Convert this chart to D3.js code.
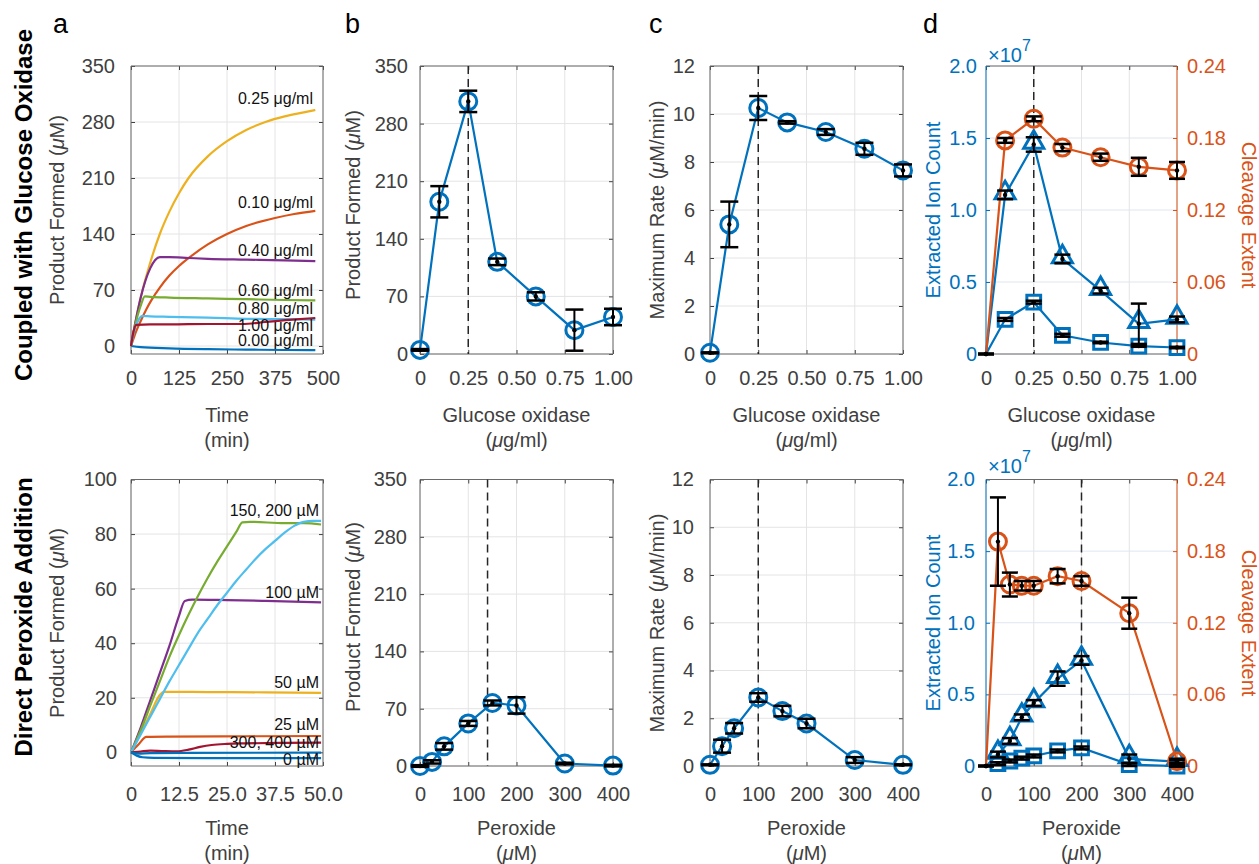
<!DOCTYPE html>
<html>
<head>
<meta charset="utf-8">
<script src="https://cdn.jsdelivr.net/npm/d3@7"></script>
<style>
  body { margin: 0; background: #fff; }
  svg { font-family: 'Liberation Sans', Arial, Helvetica, sans-serif; }
</style>
</head>
<body>
<div id="fig"></div>
<script>
'use strict';

// ---------------- data ----------------

// a (top): product formed (uM) vs time (min), one curve per glucose oxidase level
var goxNames = ['0.00 μg/ml', '0.10 μg/ml', '0.25 μg/ml', '0.40 μg/ml', '0.60 μg/ml', '0.80 μg/ml', '1.00 μg/ml'];
var gox000 = [[0,0],[25,-1.5],[100,-3],[200,-4],[300,-4.5],[400,-5],[480,-5.2]];
var gox010 = [[0,0],[10,14],[25,31],[40,46],[54,58],[75,73],[100,88],[125,100],[153,111],[200,127],[250,140],[300,150],[375,160],[425,165],[480,169]];
var gox025 = [[0,0],[10,26],[25,60],[50,104],[75,140],[100,168],[125,191],[150,210],[200,237],[250,256],[300,270],[350,280],[400,287],[450,292],[480,295]];
var gox040 = [[0,0],[10,26],[25,60],[50,97],[75,111],[100,111],[150,110],[200,109],[300,108],[400,107],[480,106]];
var gox060 = [[0,0],[10,24],[25,50],[36,62],[50,61.5],[100,60.5],[200,59.5],[300,58.5],[400,57.5],[480,57]];
var gox080 = [[0,0],[10,22],[20,33],[28,37.5],[50,37],[100,36.5],[200,35.5],[300,34],[400,33.5],[480,33]];
var gox100 = [[0,0],[6,17],[14,26.5],[50,27],[100,27],[200,27.5],[290,27.5],[350,30],[420,33],[480,35]];
var goxLabelAt = [7.5, 180, 309, 119, 69, 47.5, 26];

// a (bottom): product formed (uM) vs time (min), direct peroxide addition
var perNames = ['0 µM', '25 µM', '50 µM', '100 µM', '150, 200 µM', '', '300, 400 µM'];
var per0 = [[0,0],[1.5,-1.2],[3,-1.8],[6,-2],[20,-2.1],[49.5,-2.1]];
var per25 = [[0,0],[2,3],[4,5.7],[10,5.8],[30,5.9],[49.5,6]];
var per50 = [[0,0],[2.5,7],[5,14],[7.5,21],[8.5,22.2],[20,22.1],[35,22],[49.5,21.8]];
var per100 = [[0,0],[2.5,9],[5,19],[7.5,29],[10,39],[12.5,50],[14,55.5],[16,56],[25,55.8],[35,55.5],[49.5,55]];
var per150 = [[0,0],[2.5,8],[5,17],[7.5,26],[10,35],[12.5,43],[15,50.5],[17.5,57.5],[20,64],[22.5,70],[25,75.5],[27.5,81],[29,84.3],[31,84.5],[40,84],[45,84],[49.5,83.5]];
var per200 = [[0,0],[2.5,6.5],[5,13],[7.5,19.5],[10,26],[12.5,32],[15,38],[17.5,44],[20,49],[22.5,54],[25,58.5],[27.5,63],[30,67],[32.5,71],[35,74.5],[37.5,77.5],[40,80.5],[42.5,83],[45,84.5],[47.5,84.8],[49.5,84.8]];
var per300 = [[0,0],[2.5,0.3],[5,0.6],[8,0.5],[12,0.4],[15,1],[18,2],[21,2.7],[25,3.1],[30,3.3],[40,3.5],[49.5,3.6]];
var per400 = [[0,0],[2,-0.5],[5,-0.3],[15,-0.2],[49.5,-0.1]];
var perLabelAt = [-2.7, 10.1, 25.8, 58.8, 88.8, null, 3.5];

// b, c, d (top): glucose oxidase (ug/ml)
var goxConc = [0, 0.1, 0.25, 0.4, 0.6, 0.8, 1.0];
var goxProduct = [5, 185, 307, 112, 70, 29, 45];
var goxProductErr = [1, 19, 13, 4, 5, 25, 10];
var goxRate = [0.05, 5.4, 10.25, 9.65, 9.25, 8.55, 7.65];
var goxRateErr = [0.02, 0.95, 0.5, 0.05, 0.12, 0.25, 0.25];
var goxIonTri = [0, 1.105e7, 1.455e7, 0.66e7, 0.44e7, 0.21e7, 0.24e7];
var goxIonTriErr = [0, 0.03e7, 0.05e7, 0.03e7, 0.02e7, 0.14e7, 0.02e7];
var goxIonSq = [0, 0.24e7, 0.36e7, 0.13e7, 0.08e7, 0.055e7, 0.045e7];
var goxIonSqErr = [0, 0.01e7, 0.01e7, 0.01e7, 0.005e7, 0.005e7, 0.005e7];
var goxCleave = [0, 0.178, 0.196, 0.172, 0.164, 0.156, 0.153];
var goxCleaveErr = [0, 0.002, 0.002, 0.003, 0.003, 0.0075, 0.007];

// b, c (bottom): peroxide (uM)
var perConc = [0, 25, 50, 100, 150, 200, 300, 400];
var perProduct = [0, 5, 24, 52, 77, 74, 3, 0.5];
var perProductErr = [1, 2, 4, 3, 3, 10, 1, 1];
var perRate = [0.05, 0.83, 1.58, 2.87, 2.3, 1.78, 0.25, 0.05];
var perRateErr = [0.02, 0.27, 0.22, 0.18, 0.22, 0.2, 0.12, 0.02];

// d (bottom): peroxide (uM)
var perConcD = [0, 25, 50, 75, 100, 150, 200, 300, 400];
var perIonTri = [0, 0.08e7, 0.175e7, 0.34e7, 0.44e7, 0.61e7, 0.737e7, 0.05e7, 0.03e7];
var perIonTriErr = [0, 0.02e7, 0.02e7, 0.02e7, 0.02e7, 0.05e7, 0.03e7, 0.03e7, 0.01e7];
var perIonSq = [0, 0.016e7, 0.035e7, 0.055e7, 0.07e7, 0.105e7, 0.126e7, 0.01e7, 0];
var perIonSqErr = [0, 0.01e7, 0.01e7, 0.01e7, 0.01e7, 0.01e7, 0.01e7, 0.01e7, 0.005e7];
var perCleave = [0, 0.188, 0.152, 0.151, 0.151, 0.159, 0.155, 0.128, 0.004];
var perCleaveErr = [0, 0.037, 0.01, 0.004, 0.004, 0.006, 0.004, 0.013, 0.002];

// tick values / labels
var timeTopTicks = [0, 125, 250, 375, 500];
var timeTopLabels = ['0', '125', '250', '375', '500'];
var timeBotTicks = [0, 12.5, 25, 37.5, 50];
var timeBotLabels = ['0', '12.5', '25.0', '37.5', '50.0'];
var goxTicks = [0, 0.25, 0.5, 0.75, 1];
var goxTickLabels = ['0', '0.25', '0.50', '0.75', '1.00'];
var perTicks = [0, 100, 200, 300, 400];
var perTickLabels = ['0', '100', '200', '300', '400'];
var productTicks = [0, 70, 140, 210, 280, 350];
var productBotTicks = [0, 20, 40, 60, 80, 100];
var rateTicks = [0, 2, 4, 6, 8, 10, 12];
var ionTicks = [0, 0.5e7, 1e7, 1.5e7, 2e7];
var ionTickLabels = ['0', '0.5', '1.0', '1.5', '2.0'];
var cleaveTicks = [0, 0.06, 0.12, 0.18, 0.24];
var cleaveTickLabels = ['0', '0.06', '0.12', '0.18', '0.24'];

// ---------------- drawing ----------------

var svg = d3.select('#fig').append('svg').attr('width', 1259).attr('height', 864)
	.attr('font-size', 20);

var BLUE = '#0072bd', ORANGE = '#d95319';
var seriesColors = ['#0072bd', '#d95319', '#edb120', '#7e2f8e', '#77ac30', '#4dbeee', '#a2142f', '#0072bd'];
var axisGrey = '#404040', boxGrey = '#6a6a6a', gridGrey = '#e4e4e4';

var rowY = [[354, 66], [766, 479.5]];
var colX = [[131, 323], [420, 613], [710, 903], [986, 1177]];

function lin(domain, range){
	return d3.scaleLinear().domain(domain).range(range);
}

function tidy(sel, color){
	sel.attr('font-size', null).attr('font-family', null);
	sel.select('.domain').remove();
	sel.selectAll('.tick line').attr('stroke', color);
	sel.selectAll('.tick text').attr('fill', color);
}

function frame(xs, ys, o){
	var g = svg.append('g');
	var x0 = xs.range()[0], x1 = xs.range()[1];
	var yb = ys.range()[0], yt = ys.range()[1];

	g.selectAll('line.vg').data(o.xTicks).enter().append('line')
		.attr('x1', function(d){ return xs(d); }).attr('x2', function(d){ return xs(d); })
		.attr('y1', yt).attr('y2', yb)
		.attr('stroke', gridGrey).attr('stroke-width', 1);
	g.selectAll('line.hg').data(o.yTicks).enter().append('line')
		.attr('y1', function(d){ return ys(d); }).attr('y2', function(d){ return ys(d); })
		.attr('x1', x0).attr('x2', x1)
		.attr('stroke', o.hGrid || gridGrey).attr('stroke-width', 1);

	var bx = g.append('g').attr('transform', 'translate(0,' + yb + ')')
		.call(d3.axisBottom(xs).tickValues(o.xTicks)
			.tickFormat(function(d, i){ return o.xLabels[i]; })
			.tickSize(-4).tickPadding(o.xPad));
	tidy(bx, axisGrey);
	var tx = g.append('g').attr('transform', 'translate(0,' + yt + ')')
		.call(d3.axisTop(xs).tickValues(o.xTicks).tickFormat('').tickSize(-4));
	tidy(tx, axisGrey);

	var leftColor = o.leftColor || axisGrey;
	var ly = g.append('g').attr('transform', 'translate(' + x0 + ',0)')
		.call(d3.axisLeft(ys).tickValues(o.yTicks)
			.tickFormat(function(d, i){ return o.yLabels ? o.yLabels[i] : String(d); })
			.tickSize(-4).tickPadding(o.yPad));
	tidy(ly, leftColor);

	var rightColor = o.rightColor || axisGrey;
	var ry;
	if(o.y2){
		ry = g.append('g').attr('transform', 'translate(' + x1 + ',0)')
			.call(d3.axisRight(o.y2).tickValues(o.y2Ticks)
				.tickFormat(function(d, i){ return o.y2Labels[i]; })
				.tickSize(-4).tickPadding(10));
	}else{
		ry = g.append('g').attr('transform', 'translate(' + x1 + ',0)')
			.call(d3.axisRight(ys).tickValues(o.yTicks).tickFormat('').tickSize(-4));
	}
	tidy(ry, rightColor);

	g.append('line').attr('x1', x0).attr('x2', x1).attr('y1', yt).attr('y2', yt).attr('stroke', boxGrey);
	g.append('line').attr('x1', x0).attr('x2', x1).attr('y1', yb).attr('y2', yb).attr('stroke', boxGrey);
	g.append('line').attr('x1', x0).attr('x2', x0).attr('y1', yt).attr('y2', yb)
		.attr('stroke', o.leftColor || boxGrey);
	g.append('line').attr('x1', x1).attr('x2', x1).attr('y1', yt).attr('y2', yb)
		.attr('stroke', o.rightColor || boxGrey);
}

function rich(x, y, parts, attrs){
	var t = svg.append('text').attr('x', x).attr('y', y).attr('text-anchor', 'middle');
	Object.keys(attrs || {}).forEach(function(k){ t.attr(k, attrs[k]); });
	parts.forEach(function(p){
		t.append('tspan').text(p[0]).attr('font-style', p[1] ? 'italic' : null);
	});
	return t;
}

function yTitle(x, y, parts, color, angle){
	return rich(0, 0, parts, {
		transform: 'translate(' + x + ',' + y + ') rotate(' + (angle || -90) + ')',
		fill: color || axisGrey
	});
}

function xTitle(xs, y, line1, line2){
	var cx = (xs.range()[0] + xs.range()[1]) / 2;
	rich(cx, y, line1, {fill: axisGrey});
	rich(cx, y + 25, line2, {fill: axisGrey});
}

function dashed(xs, ys, v){
	svg.append('line')
		.attr('x1', xs(v)).attr('x2', xs(v))
		.attr('y1', ys.range()[1]).attr('y2', ys.range()[0])
		.attr('stroke', '#262626').attr('stroke-width', 1.5)
		.attr('stroke-dasharray', '8,5');
}

function kinetics(xs, ys, series, names, labelAt, labelX){
	var line = d3.line()
		.x(function(d){ return xs(d[0]); })
		.y(function(d){ return ys(d[1]); })
		.curve(d3.curveMonotoneX);
	var g = svg.append('g');
	g.selectAll('path').data(series).enter().append('path')
		.attr('d', line)
		.attr('fill', 'none')
		.attr('stroke', function(d, i){ return seriesColors[i]; })
		.attr('stroke-width', 2.2);
	names.forEach(function(n, i){
		if(!n || labelAt[i] === null) return;
		g.append('text')
			.attr('x', labelX).attr('y', ys(labelAt[i]))
			.attr('dy', '0.35em')
			.attr('text-anchor', 'end')
			.attr('font-size', 16)
			.attr('fill', '#111')
			.text(n);
	});
}

function series(xs, ys, xv, yv, color, shape, skipFirst){
	var pts = xv.map(function(x, i){ return [x, yv[i]]; });
	var g = svg.append('g');
	g.append('path')
		.attr('d', d3.line().x(function(d){ return xs(d[0]); }).y(function(d){ return ys(d[1]); })(pts))
		.attr('fill', 'none').attr('stroke', color).attr('stroke-width', 2.2);
	var mpts = skipFirst ? pts.slice(1) : pts;
	var sym = d3.symbol()
		.type(shape === 'triangle' ? d3.symbolTriangle : shape === 'square' ? d3.symbolSquare : d3.symbolCircle)
		.size(shape === 'triangle' ? 175 : shape === 'square' ? 190 : 227);
	g.selectAll('path.m').data(mpts).enter().append('path')
		.attr('class', 'm')
		.attr('d', sym)
		.attr('transform', function(d){
			var dy = shape === 'triangle' ? -2 : 0;
			return 'translate(' + xs(d[0]) + ',' + (ys(d[1]) + dy) + ')';
		})
		.attr('fill', 'none').attr('stroke', color).attr('stroke-width', 3);
}

function errorbars(xs, ys, xv, yv, ev, cap){
	var g = svg.append('g');
	var w = cap || 8;
	xv.forEach(function(x, i){
		var cx = xs(x), lo = ys(yv[i] - ev[i]), hi = ys(yv[i] + ev[i]);
		g.append('line').attr('x1', cx).attr('x2', cx).attr('y1', lo).attr('y2', hi)
			.attr('stroke', '#000').attr('stroke-width', 2);
		g.append('line').attr('x1', cx - w).attr('x2', cx + w).attr('y1', lo).attr('y2', lo)
			.attr('stroke', '#000').attr('stroke-width', 2.5);
		g.append('line').attr('x1', cx - w).attr('x2', cx + w).attr('y1', hi).attr('y2', hi)
			.attr('stroke', '#000').attr('stroke-width', 2.5);
		g.append('circle').attr('cx', cx).attr('cy', ys(yv[i])).attr('r', 2.2).attr('fill', '#000');
	});
}

function exponent(x, y){
	var t = rich(x, y, [['×10']], {fill: BLUE, 'text-anchor': 'start'});
	t.append('tspan').attr('dy', -11).attr('font-size', 16).text('7');
}

var prodLabel = [['Product Formed ('], ['μ', true], ['M)']];
var rateLabel = [['Maximum Rate ('], ['μ', true], ['M/min)']];
var goxTitle1 = [['Glucose oxidase']], goxTitle2 = [['('], ['μ', true], ['g/ml)']];
var perTitle1 = [['Peroxide']], perTitle2 = [['('], ['μ', true], ['M)']];
var timeTitle1 = [['Time']], timeTitle2 = [['(min)']];

// ---- row headers and panel letters
svg.append('text').attr('transform', 'translate(32,205) rotate(-90)')
	.attr('text-anchor', 'middle').attr('font-weight', 'bold').attr('font-size', 24)
	.text('Coupled with Glucose Oxidase');
svg.append('text').attr('transform', 'translate(32,617) rotate(-90)')
	.attr('text-anchor', 'middle').attr('font-weight', 'bold').attr('font-size', 24)
	.text('Direct Peroxide Addition');
[['a', 53], ['b', 345], ['c', 649], ['d', 923]].forEach(function(p){
	svg.append('text').attr('x', p[1]).attr('y', 33).attr('font-size', 27).attr('fill', '#000').text(p[0]);
});

// ---- a top
var aTx = lin([0, 500], colX[0]), aTy = lin([-10, 350], rowY[0]);
frame(aTx, aTy, {xTicks: timeTopTicks, xLabels: timeTopLabels, yTicks: productTicks, xPad: 17, yPad: 16});
kinetics(aTx, aTy, [gox000, gox010, gox025, gox040, gox060, gox080, gox100], goxNames, goxLabelAt, 313);
yTitle(64, 210, prodLabel);
xTitle(aTx, 422, timeTitle1, timeTitle2);

// ---- a bottom
var aBx = lin([0, 50], colX[0]), aBy = lin([-5, 100], rowY[1]);
frame(aBx, aBy, {xTicks: timeBotTicks, xLabels: timeBotLabels, yTicks: productBotTicks, xPad: 21, yPad: 14});
kinetics(aBx, aBy, [per0, per25, per50, per100, per150, per200, per300, per400], perNames, perLabelAt, 319);
yTitle(64, 623, prodLabel);
xTitle(aBx, 835, timeTitle1, timeTitle2);

// ---- b top
var bTx = lin([0, 1], colX[1]), bTy = lin([0, 350], rowY[0]);
frame(bTx, bTy, {xTicks: goxTicks, xLabels: goxTickLabels, yTicks: productTicks, xPad: 17, yPad: 12});
dashed(bTx, bTy, 0.25);
series(bTx, bTy, goxConc, goxProduct, BLUE, 'circle');
errorbars(bTx, bTy, goxConc, goxProduct, goxProductErr, 9);
yTitle(360, 205, prodLabel);
xTitle(bTx, 422, goxTitle1, goxTitle2);

// ---- b bottom
var bBx = lin([0, 400], colX[1]), bBy = lin([0, 350], rowY[1]);
frame(bBx, bBy, {xTicks: perTicks, xLabels: perTickLabels, yTicks: productTicks, xPad: 21, yPad: 13});
dashed(bBx, bBy, 140);
series(bBx, bBy, perConc, perProduct, BLUE, 'circle');
errorbars(bBx, bBy, perConc, perProduct, perProductErr, 9);
yTitle(360, 617, prodLabel);
xTitle(bBx, 835, perTitle1, perTitle2);

// ---- c top
var cTx = lin([0, 1], colX[2]), cTy = lin([0, 12], rowY[0]);
frame(cTx, cTy, {xTicks: goxTicks, xLabels: goxTickLabels, yTicks: rateTicks, xPad: 17, yPad: 15});
dashed(cTx, cTy, 0.25);
series(cTx, cTy, goxConc, goxRate, BLUE, 'circle');
errorbars(cTx, cTy, goxConc, goxRate, goxRateErr, 9);
yTitle(664, 210, rateLabel);
xTitle(cTx, 422, goxTitle1, goxTitle2);

// ---- c bottom
var cBx = lin([0, 400], colX[2]), cBy = lin([0, 12], rowY[1]);
frame(cBx, cBy, {xTicks: perTicks, xLabels: perTickLabels, yTicks: rateTicks, xPad: 21, yPad: 16});
dashed(cBx, cBy, 100);
series(cBx, cBy, perConc, perRate, BLUE, 'circle');
errorbars(cBx, cBy, perConc, perRate, perRateErr, 9);
yTitle(664, 623, rateLabel);
xTitle(cBx, 835, perTitle1, perTitle2);

// ---- d top (two y axes)
var dTx = lin([0, 1], colX[3]), dTy = lin([0, 2e7], rowY[0]), dTy2 = lin([0, 0.24], rowY[0]);
frame(dTx, dTy, {xTicks: goxTicks, xLabels: goxTickLabels, yTicks: ionTicks, yLabels: ionTickLabels,
	xPad: 17, yPad: 9, leftColor: BLUE, rightColor: ORANGE, hGrid: '#dfe6f1',
	y2: dTy2, y2Ticks: cleaveTicks, y2Labels: cleaveTickLabels});
dashed(dTx, dTy, 0.25);
series(dTx, dTy, goxConc, goxIonTri, BLUE, 'triangle', true);
series(dTx, dTy, goxConc, goxIonSq, BLUE, 'square', true);
series(dTx, dTy2, goxConc, goxCleave, ORANGE, 'circle', true);
errorbars(dTx, dTy, goxConc, goxIonTri, goxIonTriErr, 8);
errorbars(dTx, dTy, goxConc, goxIonSq, goxIonSqErr, 8);
errorbars(dTx, dTy2, goxConc, goxCleave, goxCleaveErr, 8);
yTitle(940, 210, [['Extracted Ion Count']], BLUE);
yTitle(1242, 215, [['Cleavage Extent']], ORANGE, 90);
exponent(988, 62);
xTitle(dTx, 422, goxTitle1, goxTitle2);

// ---- d bottom
var dBx = lin([0, 400], colX[3]), dBy = lin([0, 2e7], rowY[1]), dBy2 = lin([0, 0.24], rowY[1]);
frame(dBx, dBy, {xTicks: perTicks, xLabels: perTickLabels, yTicks: ionTicks, yLabels: ionTickLabels,
	xPad: 21, yPad: 11, leftColor: BLUE, rightColor: ORANGE, hGrid: '#dfe6f1',
	y2: dBy2, y2Ticks: cleaveTicks, y2Labels: cleaveTickLabels});
dashed(dBx, dBy, 200);
series(dBx, dBy, perConcD, perIonTri, BLUE, 'triangle', true);
series(dBx, dBy, perConcD, perIonSq, BLUE, 'square', true);
series(dBx, dBy2, perConcD, perCleave, ORANGE, 'circle', true);
errorbars(dBx, dBy, perConcD, perIonTri, perIonTriErr, 8);
errorbars(dBx, dBy, perConcD, perIonSq, perIonSqErr, 8);
errorbars(dBx, dBy2, perConcD, perCleave, perCleaveErr, 8);
yTitle(940, 623, [['Extracted Ion Count']], BLUE);
yTitle(1242, 623, [['Cleavage Extent']], ORANGE, 90);
exponent(988, 473);
xTitle(dBx, 835, perTitle1, perTitle2);
</script>
</body>
</html>
